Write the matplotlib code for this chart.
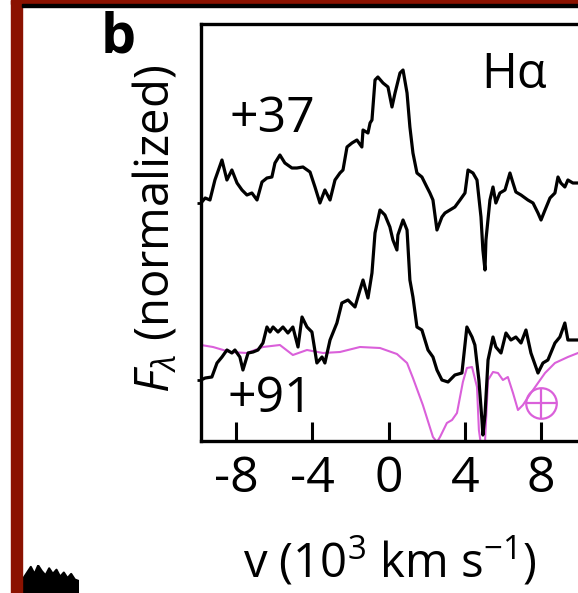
import matplotlib
matplotlib.use("Agg")
import matplotlib.pyplot as plt
from matplotlib.patches import Rectangle

plt.rcParams['font.family'] = ['Open Sans', 'DejaVu Sans']
plt.rcParams['mathtext.fontset'] = 'custom'
plt.rcParams['mathtext.rm'] = 'Open Sans'
plt.rcParams['mathtext.it'] = 'Open Sans:italic'

# ---------------- data ----------------
v_37 = [-9.84, -9.62, -9.37, -9.11, -8.74, -8.48, -8.22, -7.95, -7.69, -7.43, -7.17, -6.90,
        -6.64, -6.38, -6.12, -5.96, -5.70, -5.44, -5.07, -4.81, -4.49, -4.12, -3.86, -3.60,
        -3.34, -3.07, -2.81, -2.55, -2.39, -2.18, -1.92, -1.66, -1.40, -1.34, -1.08, -0.97,
        -0.87, -0.71, -0.56, -0.29, -0.03, 0.18, 0.34, 0.60, 0.76, 0.97, 1.12, 1.28, 1.49,
        1.75, 2.01, 2.17, 2.33, 2.54, 2.80, 2.96, 3.22, 3.48, 3.75, 4.01, 4.17, 4.43, 4.64,
        4.85, 4.95, 5.06, 5.11, 5.32, 5.48, 5.63, 5.84, 6.11, 6.37, 6.53, 6.68, 6.95, 7.31,
        7.58, 7.84, 8.00, 8.21, 8.47, 8.73, 8.89, 9.04, 9.25, 9.41, 9.67, 9.94]
f_37 = [2.38, 2.43, 2.41, 2.61, 2.81, 2.61, 2.71, 2.58, 2.51, 2.46, 2.48, 2.41,
        2.59, 2.63, 2.64, 2.78, 2.86, 2.78, 2.73, 2.73, 2.74, 2.69, 2.54, 2.38,
        2.51, 2.41, 2.61, 2.68, 2.71, 2.94, 2.98, 3.01, 2.94, 3.11, 3.08, 3.18,
        3.21, 3.61, 3.64, 3.58, 3.54, 3.34, 3.48, 3.68, 3.71, 3.48, 3.14, 2.88, 2.68,
        2.64, 2.54, 2.48, 2.41, 2.11, 2.24, 2.28, 2.31, 2.34, 2.41, 2.48, 2.71, 2.68, 2.61,
        2.24, 1.91, 1.71, 2.01, 2.41, 2.54, 2.38, 2.48, 2.51, 2.68, 2.58, 2.49, 2.46, 2.41,
        2.38, 2.28, 2.21, 2.31, 2.43, 2.48, 2.64, 2.58, 2.54, 2.61, 2.58, 2.58]

v_91 = [-9.84, -9.62, -9.27, -9.00, -8.74, -8.48, -8.22, -8.06, -7.80, -7.64, -7.37, -7.11,
        -6.85, -6.59, -6.38, -6.22, -6.06, -5.80, -5.54, -5.28, -5.02, -4.75, -4.54, -4.28,
        -4.02, -3.76, -3.49, -3.34, -3.07, -2.71, -2.45, -2.13, -1.76, -1.50, -1.34, -1.08,
        -0.87, -0.71, -0.45, -0.19, 0.07, 0.23, 0.44, 0.49, 0.76, 0.97, 1.12, 1.28, 1.49,
        1.75, 2.07, 2.33, 2.54, 2.80, 3.12, 3.48, 3.85, 4.11, 4.38, 4.53, 4.74, 4.90, 4.95,
        5.06, 5.22, 5.48, 5.63, 5.90, 6.16, 6.42, 6.68, 6.95, 7.21, 7.47, 7.73, 7.84, 8.10,
        8.36, 8.73, 8.99, 9.25, 9.41, 9.67, 9.94]
f_91 = [0.61, 0.63, 0.64, 0.78, 0.84, 0.91, 0.88, 0.91, 0.84, 0.71, 0.88, 0.89,
        0.91, 0.98, 1.14, 1.09, 1.14, 1.09, 1.14, 1.08, 1.14, 0.94, 1.24, 1.14,
        1.09, 0.78, 0.84, 0.78, 1.01, 1.18, 1.38, 1.41, 1.34, 1.51, 1.61, 1.43,
        1.68, 2.08, 2.31, 2.26, 2.14, 2.01, 1.91, 2.06, 2.21, 2.11, 1.61, 1.44, 1.14,
        1.11, 0.91, 0.84, 0.71, 0.61, 0.59, 0.66, 0.68, 1.14, 1.04, 0.96, 0.61, 0.21, 0.06,
        0.26, 0.81, 1.04, 0.94, 0.88, 1.08, 1.01, 1.04, 0.98, 1.11, 0.88, 0.74, 0.68, 0.78,
        0.81, 0.98, 1.04, 1.18, 1.01, 1.01, 1.01]

v_tell = [-9.84, -9.21, -8.32, -7.43, -6.59, -5.70, -5.02, -4.28, -3.44, -2.55, -1.50, -0.45,
          0.44, 0.97, 1.28, 1.80, 2.33, 2.54, 2.70, 3.06, 3.33, 3.59, 3.90, 4.11, 4.38, 4.64,
          4.74, 4.85, 5.06, 5.22, 5.48, 5.74, 6.00, 6.26, 6.53, 6.79, 7.05, 7.47, 7.84, 8.21,
          8.73, 9.41, 9.94]
f_tell = [0.96, 0.94, 0.89, 0.88, 0.94, 0.96, 0.86, 0.91, 0.88, 0.89, 0.94, 0.93,
          0.87, 0.78, 0.63, 0.36, 0.04, -0.01, 0.04, 0.18, 0.21, 0.28, 0.59, 0.73, 0.74, 0.54,
          0.11, -0.04, -0.01, 0.61, 0.69, 0.68, 0.61, 0.64, 0.48, 0.31, 0.36, 0.48, 0.58, 0.68,
          0.78, 0.84, 0.88]

earth_v, earth_f = 8.0, 0.38
xticks = [-8, -4, 0, 4, 8]
xtick_labels = ['-8', '-4', '0', '4', '8']
offset_levels = [0.61, 2.38]
epoch_labels = ['+37', '+91']
epoch_pos = [(-6.12, 3.22), (-6.22, 0.42)]
line_label = 'H\u03b1'

# fragment of neighbouring panel (bottom-left corner)
frag_x = [0, 1, 2, 3, 4, 5, 6, 7, 8, 9, 10, 11, 12, 13, 14, 15]
frag_y = [0.55, 0.75, 0.95, 0.7, 1.0, 0.8, 0.65, 0.9, 0.7, 0.85, 0.6, 0.75, 0.55, 0.7, 0.5, 0.45]

# ---------------- figure ----------------
W, H = 578, 593
fig = plt.figure(figsize=(W / 100, H / 100), dpi=100)
mag = '#da60da'

ax = fig.add_axes([201 / W, (H - 441) / H, (W - 201) / W, (441 - 24) / H])
ax.plot(v_tell, f_tell, color=mag, lw=1.5, zorder=2)
ax.plot(v_37, f_37, color='black', lw=2.3, zorder=3)
ax.plot(v_91, f_91, color='black', lw=2.3, zorder=3)
ax.plot([earth_v], [earth_f], marker='o', ms=22, mfc='none', mec=mag, mew=1.6, zorder=4)
ax.plot([earth_v], [earth_f], marker='+', ms=22, mec=mag, mew=1.6, zorder=4)

ax.set_xlim(-9.84, 9.94)
ax.set_ylim(0, 4.17)
for s in ['left', 'bottom', 'top']:
    ax.spines[s].set_linewidth(2.4)
ax.spines['right'].set_visible(False)

ax.set_xticks(xticks)
ax.set_xticklabels(xtick_labels)
ax.tick_params(axis='x', direction='in', length=14, width=2.2, labelsize=36, pad=10)
ax.set_yticks(offset_levels)
ax.set_yticklabels([])
ax.tick_params(axis='y', direction='out', length=3, width=2.0)

for lab, (xx, yy) in zip(epoch_labels, epoch_pos):
    ax.text(xx, yy, lab, fontsize=36, ha='center', va='center')
ax.text(6.6, 3.66, line_label, fontsize=35, ha='center', va='center')

ax.set_xlabel(r'v (10$^{3}$ km s$^{-1}$)', fontsize=34, labelpad=22)
ax.set_ylabel(r'$F_{\lambda}$ (normalized)', fontsize=34)
ax.yaxis.set_label_coords(-0.055, 0.508)

fig.text(118 / W, 1 - 38 / H, 'b', fontsize=40, fontweight='bold', ha='center', va='center')

# frame of the page
fig.patches.append(Rectangle((11 / W, 0), 11 / W, 1, transform=fig.transFigure,
                             color='#8b1200', zorder=0))
fig.patches.append(Rectangle((11 / W, 1 - 4 / H), 1, 4 / H, transform=fig.transFigure,
                             color='#8b1200', zorder=0))
fig.patches.append(Rectangle((22 / W, 1 - 7 / H), 1, 3 / H, transform=fig.transFigure,
                             color='black', zorder=0))

axf = fig.add_axes([23 / W, 0, 55 / W, 28 / H])
axf.fill_between(frag_x, 0, frag_y, color='black', lw=1.5)
axf.set_xlim(0, 15)
axf.set_ylim(0, 1)
axf.axis('off')

fig.savefig('out.png', dpi=100)
